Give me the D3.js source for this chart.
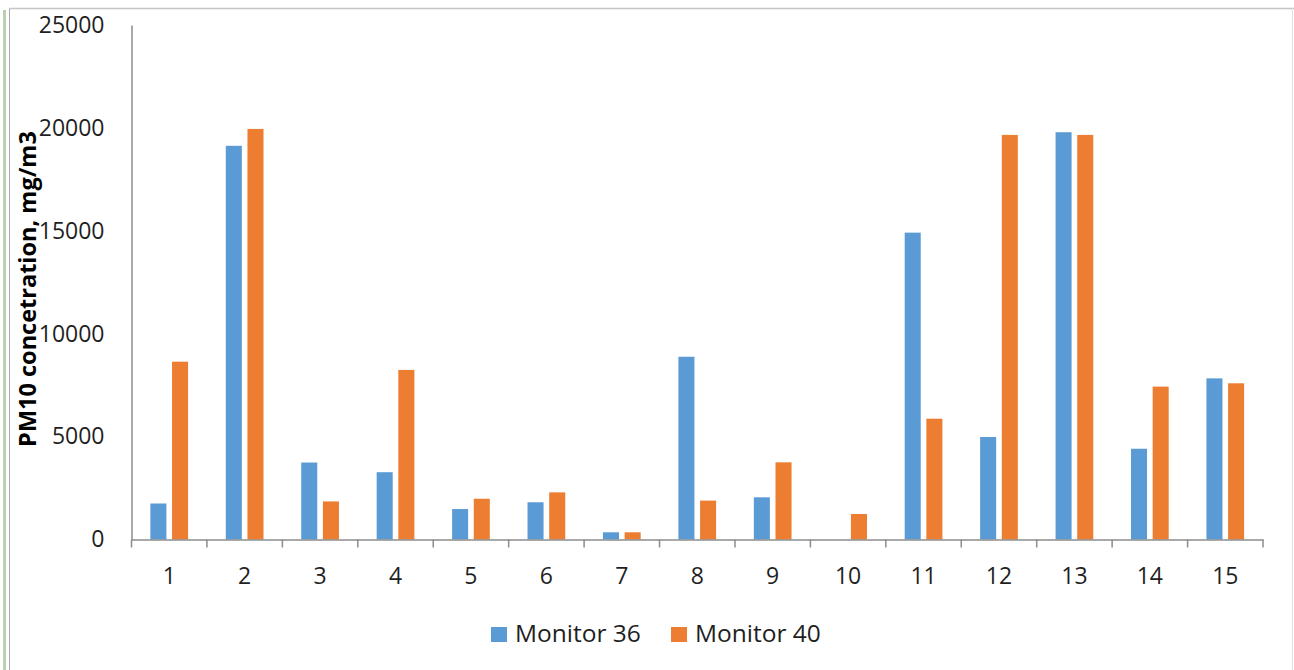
<!DOCTYPE html>
<html>
<head>
<meta charset="utf-8">
<script src="https://cdn.jsdelivr.net/npm/d3@7"></script>
<style>
  html, body { margin: 0; padding: 0; background: #ffffff; }
  svg { display: block; }
</style>
</head>
<body>
<svg id="chart" width="1294" height="670"></svg>
<script>
const categories = ["1","2","3","4","5","6","7","8","9","10","11","12","13","14","15"];
const seriesNames = ["Monitor 36", "Monitor 40"];
const monitor36 = [1750, 19130, 3740, 3270, 1480, 1810, 350, 8880, 2050, 0, 14910, 4980, 19790, 4410, 7830];
const monitor40 = [8640, 19950, 1850, 8240, 1980, 2290, 350, 1890, 3750, 1240, 5870, 19660, 19660, 7430, 7590];
const yTicks = [0, 5000, 10000, 15000, 20000, 25000];
const colors = ["#5B9BD5", "#ED7D31"];
const yTitle = "PM10 concetration, mg/m3";

(function () {
const svg = d3.select("#chart");
const W = 1294, H = 670;
const pLeft = 131.5, pRight = 1263, pTop = 25, pBottom = 539.5;
const font = "'Open Sans', 'Noto Sans', sans-serif";
const textColor = "#1f1f1f";
const axisColor = "#8c8c8c";

// frame
svg.append("line").attr("x1", 4.5).attr("x2", 4.5).attr("y1", 10).attr("y2", H)
  .attr("stroke", "#bcd0b4").attr("stroke-width", 3);
svg.append("line").attr("x1", 9.5).attr("x2", 9.5).attr("y1", 8).attr("y2", H)
  .attr("stroke", "#a8a8a8").attr("stroke-width", 1);
svg.append("line").attr("x1", 9).attr("x2", W).attr("y1", 8.5).attr("y2", 8.5)
  .attr("stroke", "#c4c4c4").attr("stroke-width", 1.5);
svg.append("line").attr("x1", W - 1.5).attr("x2", W - 1.5).attr("y1", 8).attr("y2", H)
  .attr("stroke", "#e0e0e0").attr("stroke-width", 1);

const x0 = d3.scaleBand().domain(categories).range([pLeft, pRight]).paddingInner(0).paddingOuter(0);
const bw = x0.bandwidth();
const x1 = d3.scaleBand().domain(seriesNames).range([bw * 0.25, bw * 0.75]).paddingInner(0.26).paddingOuter(0);
const y = d3.scaleLinear().domain([0, 25000]).range([pBottom, pTop]);

const seriesData = [monitor36, monitor40];

// bars
seriesNames.forEach((s, si) => {
  svg.append("g").selectAll("rect")
    .data(seriesData[si].map((v, i) => ({cat: categories[i], v})))
    .join("rect")
    .attr("x", d => x0(d.cat) + x1(s))
    .attr("width", x1.bandwidth())
    .attr("y", d => y(d.v))
    .attr("height", d => y(0) - y(d.v))
    .attr("fill", colors[si]);
});

// y axis
const yAxis = svg.append("g").attr("transform", `translate(${pLeft},0)`)
  .call(d3.axisLeft(y).tickValues(yTicks).tickSize(0).tickPadding(27).tickFormat(d3.format("d")));
yAxis.select(".domain").attr("stroke", axisColor).attr("stroke-width", 1.5);
yAxis.selectAll("text").attr("font-family", font).attr("font-size", 23).attr("fill", textColor);

// x axis
const xAxis = svg.append("g").attr("transform", `translate(0,${pBottom})`)
  .call(d3.axisBottom(x0).tickSize(0).tickPadding(28));
xAxis.select(".domain").attr("stroke", axisColor).attr("stroke-width", 1.5);
xAxis.selectAll("text").attr("font-family", font).attr("font-size", 23).attr("fill", textColor);
// tick marks at category boundaries
const bounds = categories.map(c => x0(c)).concat([pRight]);
svg.append("g").selectAll("line").data(bounds).join("line")
  .attr("x1", d => d).attr("x2", d => d)
  .attr("y1", pBottom).attr("y2", pBottom + 8)
  .attr("stroke", axisColor).attr("stroke-width", 1.5);

// y title
svg.append("text")
  .attr("transform", `translate(36,289) rotate(-90)`)
  .attr("text-anchor", "middle")
  .attr("font-family", font).attr("font-weight", "bold").attr("font-size", 23.5)
  .attr("fill", "#000")
  .text(yTitle);

// legend
const legendItems = [{name: seriesNames[0], x: 491}, {name: seriesNames[1], x: 671}];
const lg = svg.append("g");
legendItems.forEach((it, i) => {
  lg.append("rect").attr("x", it.x).attr("y", 627).attr("width", 16).attr("height", 15).attr("fill", colors[i]);
  lg.append("text").attr("x", it.x + 24).attr("y", 642)
    .attr("font-family", font).attr("font-size", 24.5).attr("fill", textColor).text(it.name);
});
})();
</script>
</body>
</html>
